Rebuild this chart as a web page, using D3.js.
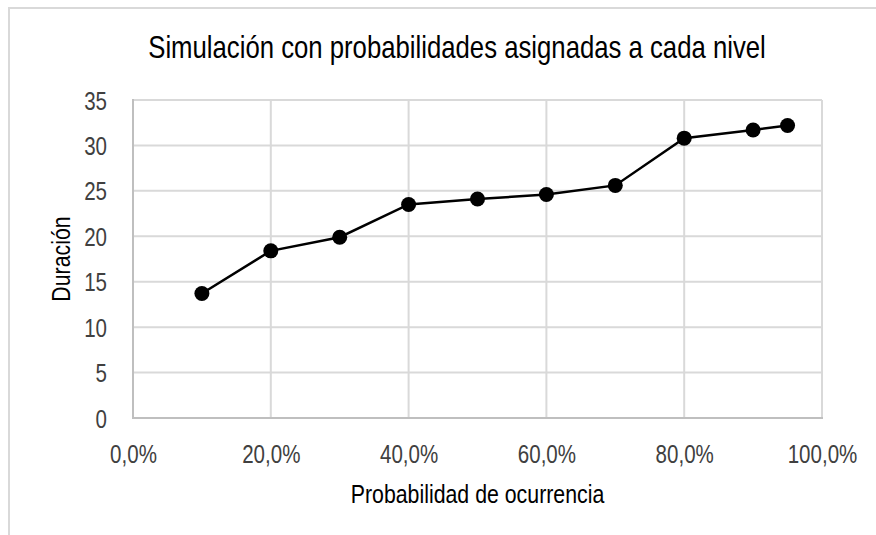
<!DOCTYPE html>
<html><head><meta charset="utf-8">
<script src="https://cdn.jsdelivr.net/npm/d3@7"></script>
<style>
body{margin:0;background:#fff;}
svg{display:block;font-family:"Liberation Sans Narrow","Arial Narrow","Liberation Sans",Arial,sans-serif;}
</style></head>
<body><svg id="c" width="876" height="535"></svg>
<script>
const probabilidades = [0.10,0.20,0.30,0.40,0.50,0.60,0.70,0.80,0.90,0.95];
const duracion = [13.7,18.4,19.9,23.5,24.1,24.6,25.6,30.8,31.7,32.2];
const xTicks = [0,0.2,0.4,0.6,0.8,1.0];
const yTicks = [0,5,10,15,20,25,30,35];
const titulo = "Simulación con probabilidades asignadas a cada nivel";
const xTitulo = "Probabilidad de ocurrencia";
const yTitulo = "Duración";

const svg = d3.select("#c");
const W=876,H=535;
const S=0.82; // horizontal condensation to mimic a narrow face
const ST=0.79;
const m={l:133,r:54,t:100,b:117};
const x=d3.scaleLinear().domain([0,1]).range([m.l,W-m.r]);
const y=d3.scaleLinear().domain([0,35]).range([H-m.b,m.t]);

// outer frame (cropped)
svg.append("path").attr("d",`M9,535V8H876`).attr("fill","none").attr("stroke","#d9d9d9").attr("stroke-width",2);

// grid
const g=svg.append("g");
g.selectAll(".hg").data(yTicks.filter(d=>d>0)).join("line")
 .attr("x1",x(0)).attr("x2",x(1)).attr("y1",d=>y(d)).attr("y2",d=>y(d))
 .attr("stroke","#d9d9d9").attr("stroke-width",2);
g.selectAll(".vg").data(xTicks.filter(d=>d>0)).join("line")
 .attr("y1",y(0)).attr("y2",y(35)).attr("x1",d=>x(d)).attr("x2",d=>x(d))
 .attr("stroke","#d9d9d9").attr("stroke-width",2);
svg.append("line").attr("x1",x(0)).attr("x2",x(0)).attr("y1",y(0)+1).attr("y2",y(35)-1).attr("stroke","#bfbfbf").attr("stroke-width",2);
svg.append("line").attr("x1",x(0)-1).attr("x2",x(1)+1).attr("y1",y(0)).attr("y2",y(0)).attr("stroke","#bfbfbf").attr("stroke-width",2);

const fmt = d=>d3.format(".1f")(d*100).replace(".",",")+"%";
const xa=svg.append("g").attr("transform",`translate(0,${y(0)})`)
 .call(d3.axisBottom(x).tickValues(xTicks).tickFormat(fmt).tickSize(0));
const ya=svg.append("g").attr("transform",`translate(${x(0)},0)`)
 .call(d3.axisLeft(y).tickValues(yTicks).tickSize(0));
[xa,ya].forEach(a=>{a.select(".domain").remove();
 a.selectAll("text").attr("font-family","Liberation Sans Narrow, Arial Narrow, Liberation Sans, Arial, sans-serif")
  .attr("font-size",26).attr("fill","#404040").attr("transform",`scale(${ST},1)`);});
xa.selectAll("text").attr("y",45).attr("dy",0);
ya.selectAll("text").attr("x",-26/ST).attr("dy","0.35em");

// line + markers
const pts=d3.zip(probabilidades,duracion);
svg.append("path").datum(pts)
 .attr("d",d3.line().x(d=>x(d[0])).y(d=>y(d[1])))
 .attr("fill","none").attr("stroke","#000").attr("stroke-width",2.5);
svg.selectAll(".pt").data(pts).join("circle")
 .attr("cx",d=>x(d[0])).attr("cy",d=>y(d[1])).attr("r",7.5).attr("fill","#000");

svg.append("text").attr("transform",`translate(457,58) scale(0.83,1)`).attr("text-anchor","middle")
 .attr("font-size",31).attr("fill","#000").text(titulo);
svg.append("text").attr("transform",`translate(${(x(0)+x(1))/2},503) scale(${S},1)`).attr("text-anchor","middle")
 .attr("font-size",26).attr("fill","#000").text(xTitulo);
svg.append("text").attr("transform",`translate(70,${(y(0)+y(35))/2}) rotate(-90) scale(${S},1)`).attr("text-anchor","middle")
 .attr("font-size",26).attr("fill","#000").text(yTitulo);
</script></body></html>
